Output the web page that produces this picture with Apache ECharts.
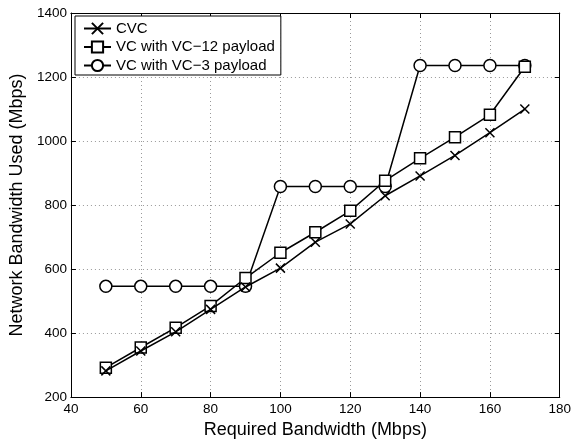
<!DOCTYPE html>
<html><head><meta charset="utf-8">
<script src="https://cdn.jsdelivr.net/npm/echarts@6/dist/echarts.min.js"></script>
<style>html,body{margin:0;padding:0;background:#fff}#c{width:574px;height:444px}</style>
</head><body><div id="c"></div>
<script>
const xValues = [50, 60, 70, 80, 90, 100, 110, 120, 130, 140, 150, 160, 170];
const cvc  = [282, 344, 404, 474, 544, 603, 684, 741, 829, 891, 955, 1026, 1100];
const vc12 = [292, 355, 417, 485, 572, 651, 715, 782, 876, 946, 1012, 1082, 1232];
const vc3  = [546, 546, 546, 546, 546, 858, 858, 858, 858, 1236, 1236, 1236, 1236];
const seriesNames = ['CVC', 'VC with VC\u221212 payload', 'VC with VC\u22123 payload'];
const xTicks = [40, 60, 80, 100, 120, 140, 160, 180];
const yTicks = [200, 400, 600, 800, 1000, 1200, 1400];

const FONT = '"Liberation Sans", Arial, sans-serif';
const pair = arr => xValues.map((x, i) => [x, arr[i]]);
const xPath = 'path://M0,0L10,10M10,0L0,10';
const symStyle = {color: '#fff', borderColor: '#000', borderWidth: 1.5};

const chart = echarts.init(document.getElementById('c'), null, {renderer: 'canvas'});
const axisCommon = {
  axisLine: {show: true, lineStyle: {color: '#000', width: 1}},
  axisTick: {show: true, inside: true, length: 5, lineStyle: {color: '#000'}},
};
chart.setOption({
  animation: false,
  backgroundColor: '#fff',
  textStyle: {fontFamily: FONT},
  grid: {left: 70, right: 12, top: 13, bottom: 45, containLabel: false},
  legend: {
    left: 75, top: 16, orient: 'vertical',
    backgroundColor: '#fff', borderColor: '#000', borderWidth: 1,
    padding: [5, 6, 2, 8], itemGap: 3.5, itemWidth: 27, itemHeight: 14,
    textStyle: {fontFamily: FONT, fontSize: 15, color: '#000'},
    data: seriesNames
  },
  xAxis: [{
    type: 'value', min: xTicks[0], max: xTicks[xTicks.length - 1], interval: 20,
    name: 'Required Bandwidth (Mbps)', nameLocation: 'middle', nameGap: 23,
    nameTextStyle: {fontFamily: FONT, fontSize: 18, color: '#000'},
    axisLabel: {fontFamily: FONT, fontSize: 13.5, color: '#000', margin: 5},
    splitLine: {show: true, lineStyle: {color: '#999', type: [1, 3], width: 1}},
    ...axisCommon
  }, {
    type: 'value', position: 'top', min: 40, max: 180, interval: 20,
    axisLabel: {show: false}, splitLine: {show: false}, ...axisCommon
  }],
  yAxis: [{
    type: 'value', min: yTicks[0], max: yTicks[yTicks.length - 1], interval: 200,
    name: 'Network Bandwidth Used (Mbps)', nameLocation: 'middle', nameGap: 42,
    nameTextStyle: {fontFamily: FONT, fontSize: 18, color: '#000'},
    axisLabel: {fontFamily: FONT, fontSize: 13.5, color: '#000', margin: 4, formatter: v => String(v)},
    splitLine: {show: true, lineStyle: {color: '#999', type: [1, 3], width: 1}},
    ...axisCommon
  }, {
    type: 'value', position: 'right', min: 200, max: 1400, interval: 200,
    axisLabel: {show: false}, splitLine: {show: false}, ...axisCommon
  }],
  series: [
    {name: seriesNames[0], type: 'line', data: pair(cvc), symbol: xPath, symbolSize: 9,
     lineStyle: {color: '#000', width: 1.5}, itemStyle: {color: '#000', borderColor: '#000', borderWidth: 1.5}, z: 3},
    {name: seriesNames[1], type: 'line', data: pair(vc12), symbol: 'rect', symbolSize: 11,
     lineStyle: {color: '#000', width: 1.5}, itemStyle: symStyle, z: 2},
    {name: seriesNames[2], type: 'line', data: pair(vc3), symbol: 'circle', symbolSize: 12,
     lineStyle: {color: '#000', width: 1.5}, itemStyle: symStyle, z: 1}
  ]
});
</script></body></html>
